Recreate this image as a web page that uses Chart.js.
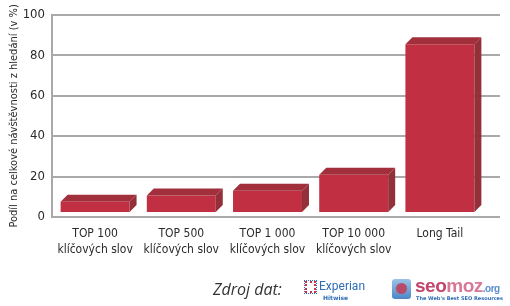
<!DOCTYPE html>
<html>
<head>
<meta charset="utf-8">
<script src="https://cdn.jsdelivr.net/npm/chart.js@4.4.1/dist/chart.umd.min.js"></script>
<style>
  html, body { margin: 0; padding: 0; background: #fff; }
  #wrap { position: relative; width: 510px; height: 306px; }
  #footer { position: absolute; left: 0; top: 276px; width: 510px; height: 30px; }
  .zdroj { position: absolute; left: 213px; top: 2px; font: italic 16px "Open Sans", "DejaVu Sans", sans-serif; color: #333; }
  .exp-icon { position: absolute; left: 305px; top: 5px; width: 7px; height: 8px; border: 2px dotted #d2304a; outline: 1px dotted #2f6db5; }
  .exp { position: absolute; left: 319px; top: 3px; font: 12px "Roboto", sans-serif; color: #2f6db5; }
  .hit { position: absolute; left: 323px; top: 18px; font: bold 6px "DejaVu Sans", sans-serif; color: #2f6db5; }
  .moz-icon { position: absolute; left: 392px; top: 3px; width: 19px; height: 20px; border-radius: 3px; background: linear-gradient(#9cc3e8, #4c87c6); }
  .moz-icon::after { content: ""; position: absolute; left: 4px; top: 4px; width: 11px; height: 11px; border-radius: 50%; background: #b84a6a; }
  .moz { position: absolute; left: 415px; top: -1px; font: bold 19px "Liberation Sans", sans-serif; color: #c1466c; letter-spacing: -0.5px; }
  .moz b { color: #d77896; }
  .moz i { font-style: normal; font-size: 10px; color: #5b8fcf; }
  .tag { position: absolute; left: 416px; top: 19px; font: bold 5px "DejaVu Sans", sans-serif; color: #2f6db5; }
</style>
</head>
<body>
<div id="wrap">
  <canvas id="seoChart" width="510" height="306"></canvas>
  <div id="footer">
    <span class="zdroj">Zdroj dat:</span>
    <span class="exp-icon"></span>
    <span class="exp">Experian</span>
    <span class="hit">Hitwise</span>
    <span class="moz-icon"></span>
    <span class="moz">seo<b>moz</b><i>.org</i></span>
    <span class="tag">The Web's Best SEO Resources</span>
  </div>
</div>
<script>
// Data
const categories = [
  ['TOP 100', 'klíčových slov'],
  ['TOP 500', 'klíčových slov'],
  ['TOP 1 000', 'klíčových slov'],
  ['TOP 10 000', 'klíčových slov'],
  'Long Tail'
];
const shares = [5.6, 8.6, 11.0, 18.9, 83.4];
const yTicks = [0, 20, 40, 60, 80, 100];

const narrow = '"DejaVu Sans", sans-serif';
const gridColor = '#a9a9a9';
const textColor = '#2a2a2a';

// Fake 3D faces for the bars
const bars3d = {
  id: 'bars3d',
  beforeDatasetsDraw(chart) {
    const { ctx, chartArea, scales } = chart;
    // stretch grid lines over the back wall
    ctx.save();
    ctx.strokeStyle = gridColor;
    ctx.lineWidth = 2;
    scales.y.ticks.forEach(t => {
      const y = Math.round(scales.y.getPixelForValue(t.value));
      ctx.beginPath();
      ctx.moveTo(chartArea.right, y);
      ctx.lineTo(chartArea.right + 17, y);
      ctx.stroke();
    });
    ctx.restore();
    ctx.save();
    ctx.translate(0, -4);
  },
  afterDatasetsDraw(chart) {
    const { ctx } = chart;
    const dx = 7, dy = 7;
    chart.getDatasetMeta(0).data.forEach(bar => {
      const { x, y, base, width } = bar.getProps(['x', 'y', 'base', 'width'], true);
      const l = x - width / 2, r = x + width / 2;
      ctx.fillStyle = '#a22f3c';
      ctx.beginPath();
      ctx.moveTo(l, y);
      ctx.lineTo(l + dx, y - dy);
      ctx.lineTo(r + dx, y - dy);
      ctx.lineTo(r, y);
      ctx.closePath();
      ctx.fill();
      ctx.fillStyle = '#93303a';
      ctx.beginPath();
      ctx.moveTo(r, y);
      ctx.lineTo(r + dx, y - dy);
      ctx.lineTo(r + dx, base - dy);
      ctx.lineTo(r, base);
      ctx.closePath();
      ctx.fill();
    });
    ctx.restore();
  }
};

new Chart(document.getElementById('seoChart'), {
  type: 'bar',
  data: {
    labels: categories,
    datasets: [{
      data: shares,
      backgroundColor: '#c03042',
      borderWidth: 0,
      categoryPercentage: 1,
      barPercentage: 0.8
    }]
  },
  options: {
    responsive: false,
    animation: false,
    layout: { padding: { top: 13, right: 27, left: 0, bottom: 0 } },
    plugins: { legend: { display: false }, tooltip: { enabled: false } },
    scales: {
      x: {
        grid: { display: false },
        border: { display: false },
        ticks: { color: textColor, font: { family: narrow, size: 12, weight: 'condensed', lineHeight: '16px' }, padding: 1, maxRotation: 0, autoSkip: false },
        afterFit(scale) { scale.height = 89; }
      },
      y: {
        min: 0,
        max: 100,
        afterBuildTicks(scale) { scale.ticks = yTicks.map(v => ({ value: v })); },
        grid: { color: gridColor, lineWidth: 2, drawTicks: false },
        border: { color: gridColor, width: 2 },
        ticks: { color: textColor, font: { family: narrow, size: 13, weight: 'condensed' }, padding: 7 },
        title: {
          display: true,
          text: 'Podíl na celkové návštěvnosti z hledání (v %)',
          color: textColor,
          font: { family: narrow, size: 11, weight: 'condensed' },
          padding: { top: 8, bottom: 0 }
        },
        afterFit(scale) { scale.width = 52; }
      }
    }
  },
  plugins: [bars3d]
});
</script>
</body>
</html>
